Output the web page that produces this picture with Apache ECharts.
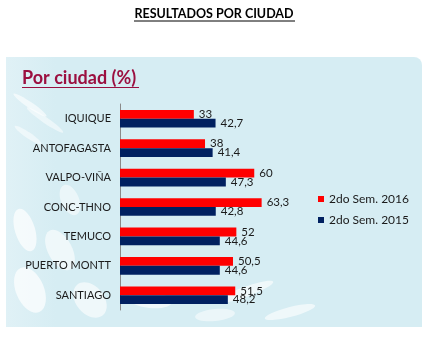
<!DOCTYPE html>
<html>
<head>
<meta charset="utf-8">
<script src="https://cdn.jsdelivr.net/npm/echarts@6/dist/echarts.min.js"></script>
<style>html,body{margin:0;padding:0;background:#fff}#c{width:427px;height:339px}</style>
</head>
<body>
<div id="c"></div>
<script>
var categories = ['IQUIQUE','ANTOFAGASTA','VALPO-VIÑA','CONC-THNO','TEMUCO','PUERTO MONTT','SANTIAGO'];
var seriesNames = ['2do Sem. 2016','2do Sem. 2015'];
var values2016 = [33, 38, 60, 63.3, 52, 50.5, 51.5];
var values2015 = [42.7, 41.4, 47.3, 42.8, 44.6, 44.6, 48.2];
var mainTitle = 'RESULTADOS POR CIUDAD';
var subTitle = 'Por ciudad (%)';

var FONT = 'Lato, "Open Sans", sans-serif';
var chart = echarts.init(document.getElementById('c'));
function fmt(p){ return String(p.value).replace('.', ','); }
function swoosh(cx, cy, rx, ry, rot, op){
  return {type:'ellipse', z:-5, shape:{cx:0, cy:0, rx:rx, ry:ry}, x:cx, y:cy, rotation:rot,
    style:{fill:'#ffffff', opacity:op}, silent:true};
}
chart.setOption({
  animation:false,
  backgroundColor:'#ffffff',
  graphic:[
    {type:'rect', z:-10, shape:{x:6, y:57, width:416, height:270, r:[0,8,0,0]},
     style:{fill:{type:'linear',x:0,y:0,x2:1,y2:0,colorStops:[{offset:0,color:'#e0f1f6'},{offset:0.12,color:'#d6edf3'},{offset:1,color:'#d6edf3'}]}}, silent:true},
    swoosh(30, 105, 20, 3, -0.6, 0.6),
    swoosh(45, 120, 22, 3, -0.6, 0.5),
    swoosh(28, 135, 16, 3, -0.6, 0.5),
    swoosh(25, 230, 10, 22, 0.3, 0.7),
    swoosh(60, 250, 12, 22, 0.5, 0.6),
    swoosh(30, 290, 14, 24, 0.4, 0.7),
    swoosh(90, 300, 14, 20, 0.7, 0.6),
    swoosh(70, 200, 9, 16, 0.4, 0.5),
    swoosh(150, 300, 22, 8, -0.1, 0.6),
    swoosh(245, 292, 30, 5, 0.35, 0.6),
    swoosh(290, 312, 26, 5, 0.25, 0.6),
    swoosh(215, 315, 20, 6, 0.1, 0.5),
    {type:'text', z:10, x:214, y:14, style:{text:mainTitle, font:'bold 12.5px '+FONT, fill:'#000', align:'center', verticalAlign:'middle'}},
    {type:'line', z:10, shape:{x1:134, y1:21, x2:295, y2:21}, style:{stroke:'#000', lineWidth:1}},
    {type:'text', z:10, x:22, y:78, style:{text:subTitle, font:'bold 18px '+FONT, fill:'#9b1040', align:'left', verticalAlign:'middle'}},
    {type:'line', z:10, shape:{x1:22, y1:87.5, x2:139, y2:87.5}, style:{stroke:'#9b1040', lineWidth:1}}
  ],
  grid:{left:120, top:104, bottom:29, width:179, containLabel:false},
  legend:{orient:'vertical', left:313, top:188, itemWidth:6, itemHeight:6, itemGap:9, icon:'rect',
    textStyle:{fontFamily:FONT, fontSize:12, color:'#1a1a1a'}, data:seriesNames},
  xAxis:{type:'value', min:0, max:80, show:false},
  yAxis:{type:'category', data:categories, inverse:true,
    axisLine:{lineStyle:{color:'#8a8a8a'}}, axisTick:{length:4, lineStyle:{color:'#8a8a8a'}},
    axisLabel:{fontFamily:FONT, fontSize:11, color:'#1a1a1a', margin:9}},
  series:[
    {name:seriesNames[0], type:'bar', data:values2016, itemStyle:{color:'#ff0000'}, barGap:'0%', barCategoryGap:'40%',
     label:{show:true, position:'right', distance:5, formatter:fmt, fontFamily:FONT, fontSize:11.5, color:'#1a1a1a'}},
    {name:seriesNames[1], type:'bar', data:values2015, itemStyle:{color:'#002060'}, barGap:'0%', barCategoryGap:'40%',
     label:{show:true, position:'right', distance:5, formatter:fmt, fontFamily:FONT, fontSize:11.5, color:'#1a1a1a'}}
  ]
});
</script>
</body>
</html>
